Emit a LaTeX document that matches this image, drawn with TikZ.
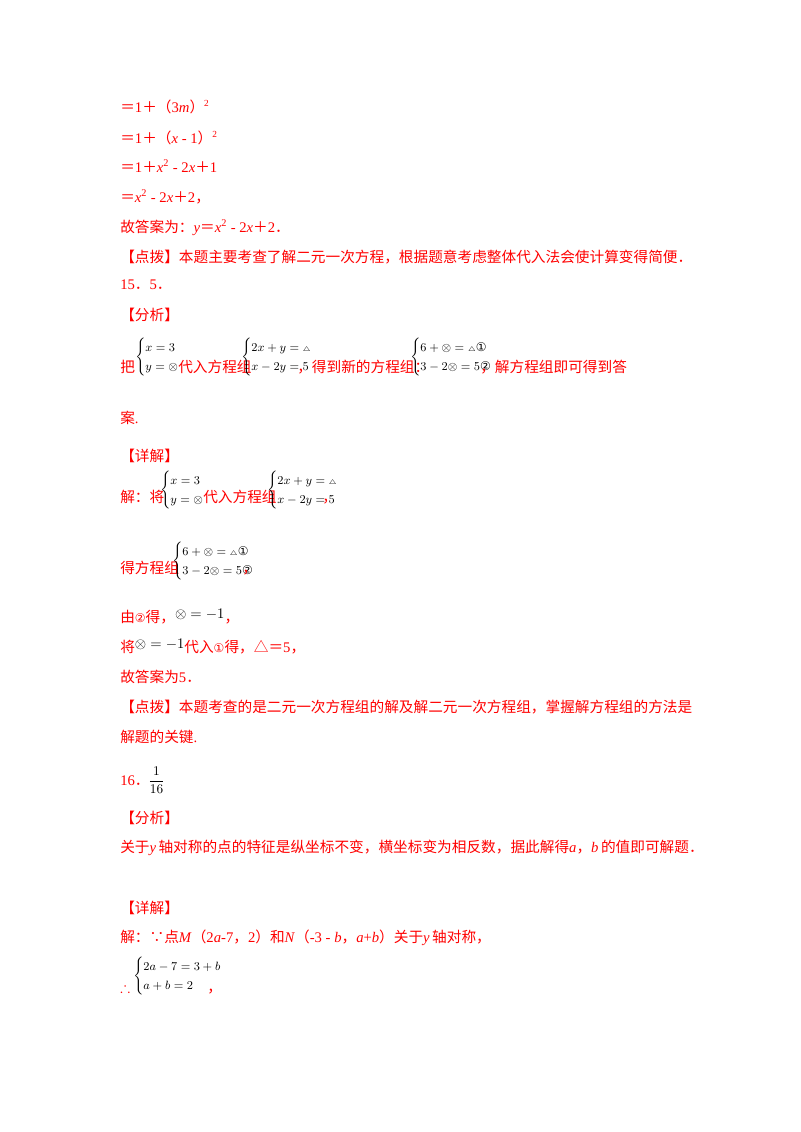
\documentclass[tikz,border=0pt]{standalone}
\usepackage{amsmath,amssymb}
\usepackage{fontspec}
\setmainfont{Liberation Serif}
\newfontfamily\cjk{Noto Sans CJK SC}
\newfontfamily\dv{DejaVu Sans}
\definecolor{rd}{RGB}{255,0,0}
\newcommand{\C}[1]{{\cjk #1}}
\newcommand{\tri}{{\scriptscriptstyle\triangle}}
\newcommand{\ci}[1]{\text{\dv\fontsize{9}{9}\selectfont #1}}
\begin{document}
\begin{tikzpicture}[x=0.75pt,y=-0.75pt,
  ln/.style={anchor=base west,inner sep=0,text=rd,font=\fontsize{11}{13}\selectfont},
  sys/.style={anchor=west,inner sep=0,text=black,font=\fontsize{9.5}{12}\selectfont},
  bd/.style={ln}]
\fill[white] (0,0) rectangle (800,1132);
\useasboundingbox (0,0) rectangle (800,1132);
\node[ln] (l1) at (120,112) {\C{＝}1\C{＋（}3\textit{m}\C{）}\raisebox{4pt}{\fontsize{7}{7}\selectfont 2}};
\node[ln] (l2) at (120,143) {\C{＝}1\C{＋（}\textit{x} - 1\C{）}\raisebox{4pt}{\fontsize{7}{7}\selectfont 2}};
\node[ln] (l3) at (120,172) {\C{＝}1\C{＋}\textit{x}\textsuperscript{2} - 2\textit{x}\C{＋}1};
\node[ln] (l4) at (120,202) {\C{＝}\textit{x}\textsuperscript{2} - 2\textit{x}\C{＋}2\C{，}};
\node[ln] (l5) at (120,232) {\C{故答案为：}\textit{y}\C{＝}\textit{x}\textsuperscript{2} - 2\textit{x}\C{＋}2\C{．}};
\node[bd] (l6) at (120,262) {\C{【点拨】本题主要考查了解二元一次方程，根据题意考虑整体代入法会使计算变得简便．}};
\node[ln] (l7) at (120,289) {15\C{．}5\C{．}};
\node[ln] (l8) at (120,320) {\C{【分析】}};
% analysis line
\node[ln] (a1) at (120,372) {\C{把}};
\node[sys] (s1) at (135,357) {$\begin{cases}x=3\\ y=\otimes\end{cases}$};
\node[ln] (a2) at (178,372) {\C{代入方程组}};
\node[sys] (s2) at (241,357) {$\begin{cases}2x+y=\tri\\ x-2y=5\end{cases}$};
\node[ln] (a3) at (297,372) {\C{，得到新的方程组：}};
\node[sys] (s3) at (410,357) {$\begin{cases}6+\otimes=\tri\ci{①}\\ 3-2\otimes=5\ci{②}\end{cases}$};
\node[ln] (a4) at (480,372) {\C{，解方程组即可得到答}};
\node[ln] (l9) at (120,423) {\C{案}.};
\node[ln] (l10) at (120,461) {\C{【详解】}};
\node[ln] (b1) at (120,502) {\C{解：将}};
\node[sys] (s4) at (160,490) {$\begin{cases}x=3\\ y=\otimes\end{cases}$};
\node[ln] (b2) at (203,502) {\C{代入方程组}};
\node[sys] (s5) at (267,490) {$\begin{cases}2x+y=\tri\\ x-2y=5\end{cases}$};
\node[ln] (b3) at (322,502) {\C{，}};
\node[ln] (c1) at (120,573) {\C{得方程组}};
\node[sys] (s6) at (172,561) {$\begin{cases}6+\otimes=\tri\ci{①}\\ 3-2\otimes=5\ci{②}\end{cases}$};
\node[ln] (c2) at (242,573) {\C{，}};
\node[ln] (d1) at (120,622) {\C{由}\ci{②}\C{得，}\raisebox{3pt}{\textcolor{black}{$\otimes=-1$}}\C{，}};
\node[ln] (d2) at (120,652) {\C{将}\raisebox{3pt}{\textcolor{black}{$\otimes=-1$}}\C{代入}\ci{①}\C{得，}\C{△＝}5\C{，}};
\node[ln] (d3) at (120,682) {\C{故答案为}5\C{．}};
\node[bd] (d4) at (120,712) {\C{【点拨】本题考查的是二元一次方程组的解及解二元一次方程组，掌握解方程组的方法是}};
\node[ln] (d5) at (120,742) {\C{解题的关键}.};
\node[ln] (e1) at (120,785) {16\C{．}};
\node[sys,font=\fontsize{10}{12}\selectfont] (f1) at (148,780) {$\dfrac{1}{16}$};
\node[ln] (e2) at (120,823) {\C{【分析】}};
\node[ln] (e3) at (120,852) {\C{关于}\textit{y}\,\C{轴对称的点的特征是纵坐标不变，横坐标变为相反数，据此解得}\textit{a}\C{，}\textit{b}\,\C{的值即可解题．}};
\node[ln] (e4) at (120,913) {\C{【详解】}};
\node[ln] (e5) at (120,942) {\C{解：∵点}\textit{M}\C{（}2\textit{a}-7\C{，}2\C{）和}\textit{N}\C{（}-3 - \textit{b}\C{，}\textit{a}+\textit{b}\C{）关于}\textit{y}\,\C{轴对称，}};
\node[ln] (g1) at (120,992) {$\therefore$};
\node[sys] (s7) at (133,976) {$\begin{cases}2a-7=3+b\\ a+b=2\end{cases}$};
\node[ln] (g2) at (207,992) {\C{，}};
\end{tikzpicture}
\end{document}
